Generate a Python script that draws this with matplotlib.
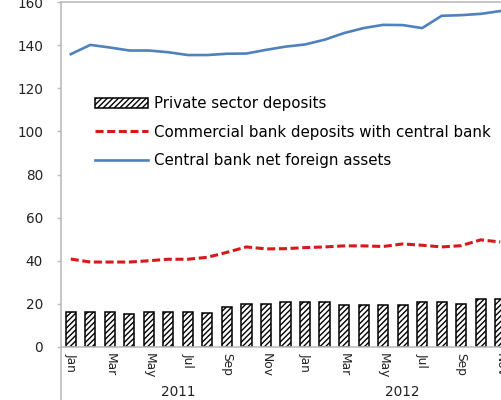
import matplotlib
matplotlib.use("Agg")
import matplotlib.pyplot as plt
import matplotlib.transforms as mtransforms
from matplotlib.lines import Line2D

plt.rcParams["font.family"] = ["DejaVu Sans"]
plt.rcParams["lines.scale_dashes"] = False
plt.rcParams["hatch.linewidth"] = 1.0

# Monthly series, Jan 2011 - Nov 2012
months = ["Jan", "Feb", "Mar", "Apr", "May", "Jun", "Jul", "Aug", "Sep", "Oct", "Nov", "Dec",
          "Jan", "Feb", "Mar", "Apr", "May", "Jun", "Jul", "Aug", "Sep", "Oct", "Nov"]
years = ["2011", "2012"]
year_months = [12, 11]

private_deposits = [16.2, 16.2, 16.2, 15.4, 16.2, 16.2, 16.2, 16.0, 18.7, 20.1, 20.1, 21.0,
                    21.0, 21.0, 19.5, 19.5, 19.5, 19.5, 21.0, 21.0, 20.0, 22.4, 22.4]
commercial_deposits = [40.8, 39.4, 39.4, 39.4, 40.0, 40.7, 40.7, 41.6, 43.9, 46.4, 45.5, 45.6,
                       46.1, 46.4, 46.9, 46.9, 46.6, 47.8, 47.2, 46.4, 47.0, 49.7, 48.7]
net_foreign_assets = [135.8, 140.1, 138.9, 137.5, 137.5, 136.7, 135.4, 135.4, 136.0, 136.1, 137.8, 139.3,
                      140.3, 142.5, 145.6, 147.9, 149.4, 149.3, 147.9, 153.6, 153.9, 154.5, 155.8]

labels = ["Private sector deposits",
          "Commercial bank deposits with central bank",
          "Central bank net foreign assets"]

W, H = 502, 400
fig = plt.figure(figsize=(W / 100, H / 100), dpi=100)
ax_left, ax_right, ax_top, ax_bottom = 61, 510, 2, 347
ax = fig.add_axes([ax_left / W, 1 - ax_bottom / H, (ax_right - ax_left) / W, (ax_bottom - ax_top) / H])

x = list(range(len(months)))
bars = ax.bar(x, private_deposits, width=0.52, facecolor="white", edgecolor="black",
              linewidth=1.1, hatch="//////", label=labels[0], zorder=2)
line_cb, = ax.plot(x, commercial_deposits, color="#d7191c", linewidth=2.2,
                   linestyle=(0, (5.8, 2.6)), label=labels[1], zorder=3)
line_nfa, = ax.plot(x, net_foreign_assets, color="#4f81bd", linewidth=1.9, label=labels[2], zorder=3)

ax.set_xlim(-0.5, len(months) - 0.5)
ax.set_ylim(0, 160)
ax.set_yticks(range(0, 161, 20))

grey = "#bcbcbc"
for side in ["left", "bottom", "top"]:
    ax.spines[side].set_color(grey)
    ax.spines[side].set_linewidth(1.2)
ax.spines["right"].set_visible(False)

ax.tick_params(axis="y", direction="out", length=3, width=1, color=grey,
               pad=10, labelsize=9.8, labelcolor="#222222")
ax.set_xticks(x[::2])
ax.set_xticklabels(months[::2], rotation=-90, fontsize=8.8, color="#222222")
ax.tick_params(axis="x", length=0, pad=4.5)

# Year group labels and left divider below the category axis
blend = mtransforms.blended_transform_factory(ax.transData, fig.transFigure)
start = 0
for yr, n in zip(years, year_months):
    centre = start + (n - 1) / 2
    ax.text(centre, 1 - 392 / H, yr, transform=blend, ha="center", va="center",
            fontsize=9.8, color="#222222")
    start += n
fig.add_artist(Line2D([ax_left / W, ax_left / W], [0, 1 - ax_bottom / H],
                      transform=fig.transFigure, color=grey, linewidth=1.2))

ax.legend([bars, line_cb, line_nfa], labels,
          loc="upper left", bbox_to_anchor=(95 / W, 1 - 96 / H), bbox_transform=fig.transFigure,
          frameon=False, fontsize=10.8, handlelength=3.5, handleheight=0.7,
          handletextpad=0.45, labelspacing=0.9, borderpad=0, borderaxespad=0)

fig.savefig("out.png", dpi=100)
